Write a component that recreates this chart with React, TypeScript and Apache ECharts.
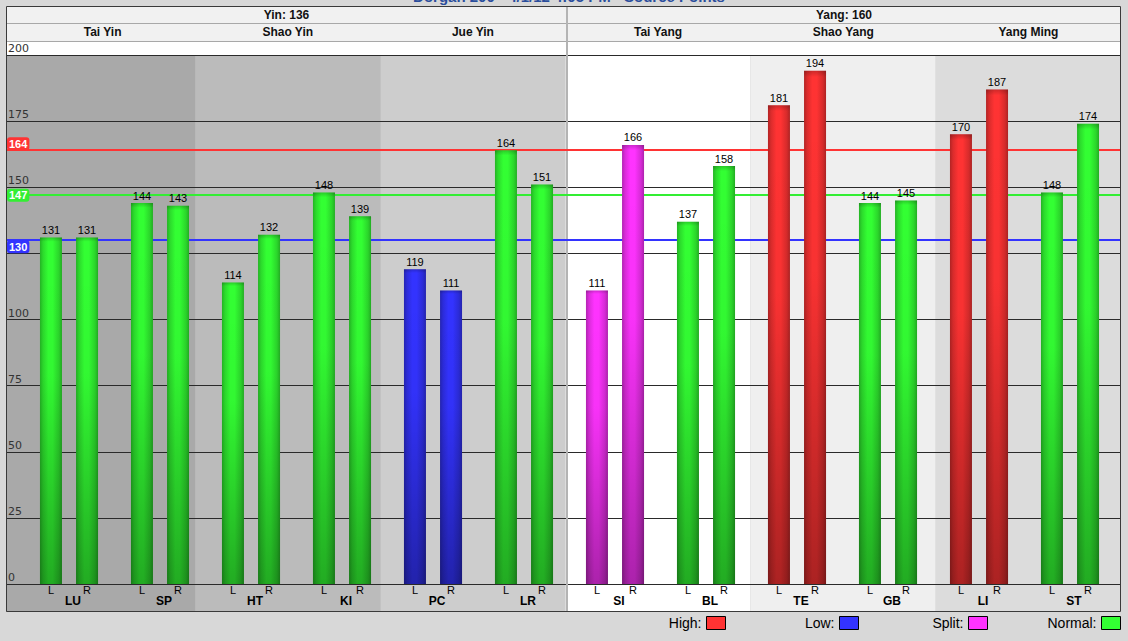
import React, { useEffect, useRef } from "react";
import * as echarts from "echarts";

// ---------- data ----------
const meridians = ["LU", "SP", "HT", "KI", "PC", "LR", "SI", "BL", "TE", "GB", "LI", "ST"];
const leftValues = [131, 144, 114, 148, 119, 164, 111, 137, 181, 144, 170, 148];
const rightValues = [131, 143, 132, 139, 111, 151, 166, 158, 194, 145, 187, 174];
const meridianStatus = ["Normal", "Normal", "Normal", "Normal", "Low", "Normal", "Split", "Normal", "High", "Normal", "High", "Normal"];
const channels = ["Tai Yin", "Shao Yin", "Jue Yin", "Tai Yang", "Shao Yang", "Yang Ming"];
const channelShades = ["#a9a9a9", "#bbbbbb", "#cdcdcd", "#ffffff", "#efefef", "#dcdcdc"];
const groupNames = ["Yin", "Yang"];
const groupTotals = [136, 160];
const referenceValues = [164, 147, 130];
const referenceColors = ["#ff3333", "#33ee33", "#3333ff"];
const referenceLabelSides = ["insideStartTop", "insideStart", "insideStartBottom"];
const legendNames = ["High", "Low", "Split", "Normal"];
const legendColors = ["#ff3333", "#3333ff", "#ff33ff", "#33ff33"];
const sideLabels = ["L", "R"];
const yMin = 0;
const yMax = 200;
const yInterval = 25;
const titleText = "Dorgan 200 - 4/1/12 4:05 PM - Source Points";

// ---------- helpers ----------
const FONT = "'Liberation Sans', Arial, Helvetica, sans-serif";
const statusColor = (s: string) => legendColors[legendNames.indexOf(s)];

function shade(hex: string, f: number) {
  const n = parseInt(hex.slice(1), 16);
  const r = Math.round(((n >> 16) & 255) * f);
  const g = Math.round(((n >> 8) & 255) * f);
  const b = Math.round((n & 255) * f);
  return `rgb(${r},${g},${b})`;
}

function barGradient(hex: string) {
  return new echarts.graphic.LinearGradient(0, 0, 1, 0, [
    { offset: 0, color: shade(hex, 0.7) },
    { offset: 0.14, color: shade(hex, 0.86) },
    { offset: 0.38, color: shade(hex, 1) },
    { offset: 0.58, color: shade(hex, 1) },
    { offset: 0.86, color: shade(hex, 0.84) },
    { offset: 1, color: shade(hex, 0.68) },
  ]);
}

const overlayGradient = () =>
  new echarts.graphic.LinearGradient(0, 0, 0, 1, [
    { offset: 0, color: "rgba(0,0,0,0.2)" },
    { offset: 0.012, color: "rgba(0,0,0,0)" },
    { offset: 0.4, color: "rgba(0,0,0,0.03)" },
    { offset: 1, color: "rgba(0,0,0,0.33)" },
  ]);

// layout constants
const W = 1128;
const H = 641;
const FRAME_L = 6;
const FRAME_R = 1121;
const FRAME_T = 6;
const FRAME_B = 612;
const PLOT_T = 55;
const PLOT_B = 584;
const DIVIDER_X = 567;
const legendRights = [402, 269, 140, 7];

export default function App() {
  const ref = useRef<HTMLDivElement>(null);

  useEffect(() => {
    if (!ref.current) return;
    const chart = echarts.init(ref.current, null, { renderer: "svg" });

    const barSeries = [leftValues, rightValues].map((vals, si) => ({
      type: "bar",
      name: sideLabels[si],
      xAxisIndex: 0,
      yAxisIndex: 0,
      barWidth: 22,
      barGap: "64%",
      z: 4,
      silent: true,
      data: vals.map((v, i) => ({
        value: v,
        itemStyle: { color: barGradient(statusColor(meridianStatus[i])) },
      })),
      label: {
        show: true,
        position: "top",
        distance: 2,
        color: "#000",
        fontSize: 11,
        fontFamily: FONT,
      },
    }));

    const overlaySeries = [leftValues, rightValues].map((vals) => ({
      type: "bar",
      xAxisIndex: 1,
      yAxisIndex: 0,
      barWidth: 22,
      barGap: "64%",
      z: 5,
      silent: true,
      data: vals,
      itemStyle: { color: overlayGradient() },
    }));

    const bandSeries = {
      type: "bar",
      xAxisIndex: 3,
      yAxisIndex: 2,
      barWidth: "100%",
      barCategoryGap: "0%",
      z: 0,
      silent: true,
      data: channels.map((_, i) => ({ value: 1, itemStyle: { color: channelShades[i] } })),
    };

    const refSeries = {
      type: "line",
      xAxisIndex: 2,
      yAxisIndex: 1,
      data: [],
      z: 3,
      silent: true,
      markLine: {
        silent: true,
        symbol: ["none", "none"],
        z: 3,
        label: {
          show: true,
          distance: [1, 0],
          color: "#fff",
          fontWeight: "bold",
          fontSize: 11,
          fontFamily: FONT,
          padding: [1, 2, 0, 2],
          lineHeight: 12,
          borderRadius: 3,
          formatter: "{c}",
        },
        data: referenceValues.map((v, i) => ({
          yAxis: v,
          lineStyle: { color: referenceColors[i], width: 2, type: "solid" },
          label: { backgroundColor: referenceColors[i], position: referenceLabelSides[i] },
        })),
      },
    };

    const legendSeries = legendNames.map((n, i) => ({
      type: "line",
      name: n,
      xAxisIndex: 2,
      yAxisIndex: 1,
      data: [],
      color: legendColors[i],
    }));

    const option: any = {
      animation: false,
      backgroundColor: "#d8d8d8",
      grid: [
        { left: 23.5, right: 12.5, top: PLOT_T, bottom: H - PLOT_B, outerBoundsMode: "none", containLabel: false },
        { left: FRAME_L, right: W - FRAME_R, top: PLOT_T, bottom: H - PLOT_B, outerBoundsMode: "none", containLabel: false },
        { left: 10, right: W - FRAME_R, top: PLOT_T, bottom: H - FRAME_B, outerBoundsMode: "none", containLabel: false },
      ],
      xAxis: [
        {
          type: "category",
          gridIndex: 0,
          data: meridians,
          axisLine: { show: false },
          axisTick: { show: false },
          axisLabel: {
            interval: 0,
            margin: 1,
            color: "#000",
            fontFamily: FONT,
            formatter: (v: string) => `{l|${sideLabels[0]}}{r|${sideLabels[1]}}\n{n|${v}}`,
            rich: {
              l: { width: 36, align: "center", fontSize: 11, lineHeight: 9, fontFamily: FONT, color: "#000" },
              r: { width: 36, align: "center", fontSize: 11, lineHeight: 9, fontFamily: FONT, color: "#000" },
              n: { align: "center", fontSize: 12, fontWeight: "bold", lineHeight: 14, padding: [0, 0, 0, 8], fontFamily: FONT, color: "#000" },
            },
          },
        },
        { type: "category", gridIndex: 0, data: meridians, show: false },
        { type: "value", gridIndex: 1, min: 0, max: 1, show: false },
        {
          type: "category",
          gridIndex: 2,
          data: channels,
          position: "top",
          axisLine: { show: false },
          axisTick: { show: false },
          axisLabel: {
            interval: 0,
            margin: 17,
            color: "#111",
            fontWeight: "bold",
            fontSize: 12,
            fontFamily: FONT,
          },
        },
      ],
      yAxis: [
        { type: "value", gridIndex: 0, min: yMin, max: yMax, show: false },
        {
          type: "value",
          gridIndex: 1,
          min: yMin,
          max: yMax,
          interval: yInterval,
          z: 1,
          axisLine: { show: false },
          axisTick: { show: false },
          splitLine: { show: true, lineStyle: { color: "#2a2a2a", width: 1 } },
          axisLabel: {
            inside: true,
            margin: 2,
            verticalAlign: "bottom",
            color: "#333",
            fontSize: 11,
            fontFamily: "'DejaVu Sans', sans-serif",
            padding: [0, 0, 1, 0],
          },
        },
        { type: "value", gridIndex: 2, min: 0, max: 1, show: false },
      ],
      legend: legendNames.map((n, i) => ({
        data: [
          {
            name: n,
            icon: "rect",
            itemStyle: { color: legendColors[i], borderColor: "#000", borderWidth: 1 },
          },
        ],
        right: legendRights[i],
        top: 615,
        padding: 0,
        align: "right",
        itemWidth: 19,
        itemHeight: 13,
        selectedMode: false,
        formatter: "{name}:",
        textStyle: { fontSize: 14, color: "#000", fontFamily: FONT, lineHeight: 16 },
      })),
      graphic: {
        elements: [
          {
            type: "rect",
            z: -10,
            silent: true,
            shape: { x: FRAME_L, y: FRAME_T, width: FRAME_R - FRAME_L, height: FRAME_B - FRAME_T },
            style: { fill: channelShades[0] },
          },
          {
            type: "rect",
            z: -9,
            silent: true,
            shape: { x: FRAME_L, y: FRAME_T, width: FRAME_R - FRAME_L, height: 35 },
            style: { fill: "#f1f1f1" },
          },
          {
            type: "rect",
            z: -9,
            silent: true,
            shape: { x: FRAME_L, y: 41, width: FRAME_R - FRAME_L, height: PLOT_T - 41 },
            style: { fill: "#ffffff" },
          },
          {
            type: "line",
            z: 2,
            silent: true,
            shape: { x1: FRAME_L, y1: 23.5, x2: FRAME_R, y2: 23.5 },
            style: { stroke: "#a8a8a8", lineWidth: 1 },
          },
          {
            type: "line",
            z: 2,
            silent: true,
            shape: { x1: FRAME_L, y1: 41.5, x2: FRAME_R, y2: 41.5 },
            style: { stroke: "#a8a8a8", lineWidth: 1 },
          },
          {
            type: "line",
            z: 2,
            silent: true,
            shape: { x1: DIVIDER_X, y1: FRAME_T, x2: DIVIDER_X, y2: FRAME_B },
            style: { stroke: "#b4b4b4", lineWidth: 2 },
          },
          {
            type: "rect",
            z: 20,
            silent: true,
            shape: { x: FRAME_L + 0.5, y: FRAME_T + 0.5, width: FRAME_R - FRAME_L - 1, height: FRAME_B - FRAME_T - 1 },
            style: { fill: "none", stroke: "#3a3a3a", lineWidth: 1 },
          },
          ...groupNames.map((g, i) => ({
            type: "text",
            z: 20,
            silent: true,
            x: i === 0 ? (FRAME_L + DIVIDER_X) / 2 : (DIVIDER_X + FRAME_R) / 2,
            y: 15,
            style: {
              text: `${g}: ${groupTotals[i]}`,
              font: `bold 12px ${FONT}`,
              fill: "#111",
              textAlign: "center",
              textVerticalAlign: "middle",
              align: "center",
              verticalAlign: "middle",
            },
          })),
          {
            type: "text",
            z: 20,
            silent: true,
            x: 569,
            y: 4,
            style: {
              text: titleText,
              font: `bold 15px ${FONT}`,
              fill: "#2a4d9c",
              textAlign: "center",
              textVerticalAlign: "bottom",
              align: "center",
              verticalAlign: "bottom",
            },
          },
        ],
      },
      series: [bandSeries, refSeries, ...legendSeries, ...barSeries, ...overlaySeries],
    };

    chart.setOption(option);
    return () => chart.dispose();
  }, []);

  return (
    <div
      ref={ref}
      style={{ position: "absolute", left: 0, top: 0, width: W, height: H }}
    />
  );
}
